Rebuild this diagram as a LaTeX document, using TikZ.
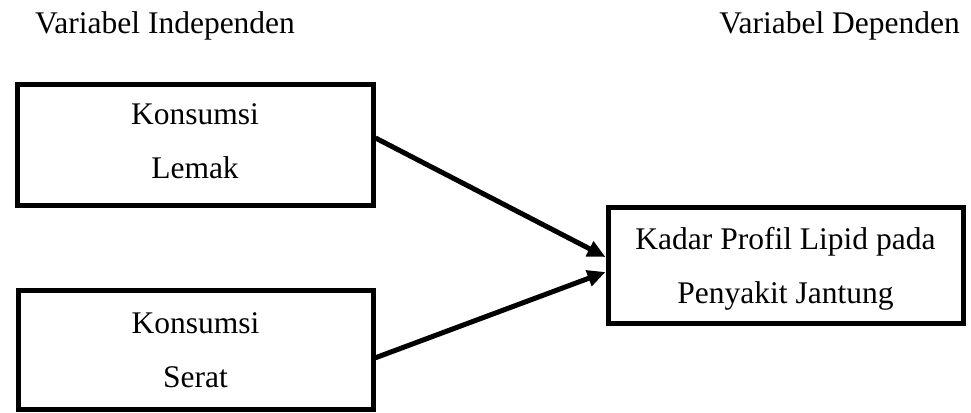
\documentclass[tikz,border=0pt]{standalone}
\usepackage{fontspec}
\setmainfont{Liberation Serif}
\usetikzlibrary{arrows.meta}
\begin{document}
\begin{tikzpicture}[x=1pt,y=-1pt,
  varbox/.style={draw=black,line width=5pt,align=center,inner sep=0pt,
    font=\fontsize{31.5}{54}\selectfont},
  header/.style={inner sep=0pt,font=\fontsize{31.5}{38}\selectfont},
  arr/.style={draw=black,line width=5pt,-{Triangle[length=18pt,width=16pt]}}]
\useasboundingbox[fill=white] (0,0) rectangle (971,412);
\node[header,anchor=base west] (h1) at (35,34) {Variabel Independen};
\node[header,anchor=base east] (h2) at (960,34) {Variabel Dependen};
\node[varbox,minimum width=356pt,minimum height=121pt,text depth=7pt] (b1) at (195,145) {Konsumsi\\Lemak};
\node[varbox,minimum width=355pt,minimum height=118.5pt] (b2) at (195.5,349.75) {Konsumsi\\Serat};
\node[varbox,minimum width=355pt,minimum height=116pt,text depth=0pt] (b3) at (785.5,265) {Kadar Profil Lipid pada\\Penyakit Jantung};
\draw[arr] ([yshift=7pt]b1.east) -- ([yshift=8pt]b3.west);
\draw[arr] ([yshift=-8pt]b2.east) -- ([yshift=-7pt]b3.west);
\end{tikzpicture}
\end{document}
